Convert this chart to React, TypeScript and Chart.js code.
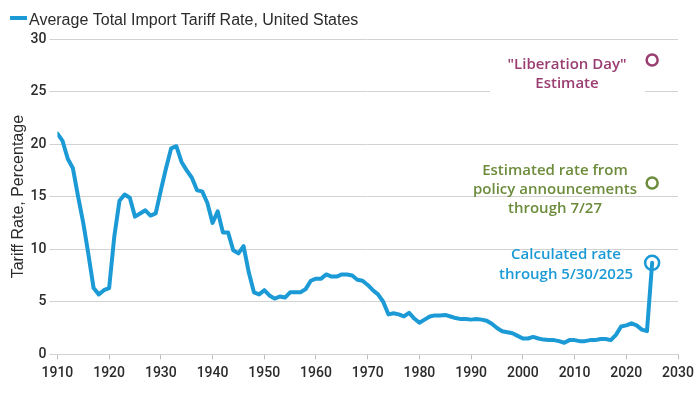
import React, { useEffect, useRef } from "react";
import { Chart, registerables } from "chart.js";

Chart.register(...registerables);

// ---------- data ----------
const years = [
  1910, 1911, 1912, 1913, 1914, 1915, 1916, 1917, 1918, 1919,
  1920, 1921, 1922, 1923, 1924, 1925, 1926, 1927, 1928, 1929,
  1930, 1931, 1932, 1933, 1934, 1935, 1936, 1937, 1938, 1939,
  1940, 1941, 1942, 1943, 1944, 1945, 1946, 1947, 1948, 1949,
  1950, 1951, 1952, 1953, 1954, 1955, 1956, 1957, 1958, 1959,
  1960, 1961, 1962, 1963, 1964, 1965, 1966, 1967, 1968, 1969,
  1970, 1971, 1972, 1973, 1974, 1975, 1976, 1977, 1978, 1979,
  1980, 1981, 1982, 1983, 1984, 1985, 1986, 1987, 1988, 1989,
  1990, 1991, 1992, 1993, 1994, 1995, 1996, 1997, 1998, 1999,
  2000, 2001, 2002, 2003, 2004, 2005, 2006, 2007, 2008, 2009,
  2010, 2011, 2012, 2013, 2014, 2015, 2016, 2017, 2018, 2019,
  2020, 2021, 2022, 2023, 2024, 2025,
];

const tariffRate = [
  21.0, 20.3, 18.6, 17.7, 15.0, 12.5, 9.5, 6.3, 5.7, 6.1,
  6.3, 11.2, 14.6, 15.2, 14.9, 13.1, 13.4, 13.7, 13.2, 13.4,
  15.6, 17.7, 19.6, 19.8, 18.3, 17.5, 16.8, 15.6, 15.5, 14.4,
  12.5, 13.6, 11.6, 11.6, 9.9, 9.6, 10.3, 7.8, 5.9, 5.7,
  6.1, 5.6, 5.3, 5.5, 5.4, 5.9, 5.9, 5.9, 6.2, 7.0,
  7.2, 7.2, 7.6, 7.4, 7.4, 7.6, 7.6, 7.5, 7.1, 7.0,
  6.6, 6.1, 5.7, 5.0, 3.8, 3.9, 3.8, 3.6, 3.95, 3.4,
  3.0, 3.3, 3.6, 3.7, 3.7, 3.75, 3.6, 3.45, 3.35, 3.35,
  3.3, 3.35, 3.3, 3.2, 2.9, 2.5, 2.2, 2.1, 2.0, 1.75,
  1.5, 1.5, 1.65, 1.5, 1.4, 1.35, 1.35, 1.25, 1.1, 1.35,
  1.35, 1.25, 1.25, 1.35, 1.35, 1.45, 1.45, 1.35, 1.85, 2.65,
  2.75, 2.95, 2.75, 2.35, 2.2, 8.7,
];

const estimateYear = 2025;
const calculatedRate = 8.7;
const policyRate = 16.3;
const liberationRate = 28.0;

const xTicks = [1910, 1920, 1930, 1940, 1950, 1960, 1970, 1980, 1990, 2000, 2010, 2020, 2030];
const yTicks = [0, 5, 10, 15, 20, 25, 30];

const legendLabel = "Average Total Import Tariff Rate, United States";
const yTitle = "Tariff Rate, Percentage";
const liberationLines = ['"Liberation Day"', "Estimate"];
const policyLines = ["Estimated rate from", "policy announcements", "through 7/27"];
const calculatedLines = ["Calculated rate", "through 5/30/2025"];

// ---------- styles ----------
const BLUE = "#1b9ad6";
const PURPLE = "#9a3d70";
const GREEN = "#6c8c3c";
const TEXT = "#2b2b2b";
const GRID = "#d2d2d2";
const NOTE_FONT = "600 15px 'Open Sans', 'Noto Sans', sans-serif";

const notesPlugin = {
  id: "notesPlugin",
  beforeDatasetsDraw(chart: any) {
    const ctx = chart.ctx;
    ctx.save();
    // white panel behind the "Liberation Day" note (hides gridline)
    ctx.fillStyle = "#ffffff";
    ctx.fillRect(490, 47, 155, 49);

    const drawLines = (lines: string[], color: string, cx: number, y0: number, step: number) => {
      ctx.font = NOTE_FONT;
      ctx.fillStyle = color;
      ctx.textAlign = "center";
      ctx.textBaseline = "middle";
      lines.forEach((l, i) => ctx.fillText(l, cx, y0 + i * step));
    };
    drawLines(liberationLines, PURPLE, 567, 65, 18.5);
    drawLines(policyLines, GREEN, 555, 171, 19);
    drawLines(calculatedLines, BLUE, 566, 255, 20);
    ctx.restore();
  },
  afterDraw(chart: any) {
    const ctx = chart.ctx;
    ctx.save();
    ctx.fillStyle = BLUE;
    ctx.fillRect(10, 16, 17, 4);
    ctx.font = "16px 'Liberation Sans', Arial, sans-serif";
    ctx.fillStyle = TEXT;
    ctx.textAlign = "left";
    ctx.textBaseline = "alphabetic";
    ctx.fillText(legendLabel, 29, 25);
    ctx.restore();
  },
};

export default function App() {
  const canvasRef = useRef<HTMLCanvasElement | null>(null);

  useEffect(() => {
    if (!canvasRef.current) return;
    const lineData = years.map((yr, i) => ({ x: yr, y: tariffRate[i] }));
    const chart = new Chart(canvasRef.current, {
      type: "line",
      data: {
        datasets: [
          {
            label: legendLabel,
            data: lineData,
            borderColor: BLUE,
            backgroundColor: BLUE,
            borderWidth: 4,
            pointRadius: 0,
            tension: 0,
            borderJoinStyle: "round",
            borderCapStyle: "round",
          },
          {
            label: "calculated",
            data: [{ x: estimateYear, y: calculatedRate }],
            showLine: false,
            pointRadius: 7,
            pointBorderWidth: 2.5,
            pointBorderColor: BLUE,
            pointBackgroundColor: "rgba(0,0,0,0)",
          },
          {
            label: "policy",
            data: [{ x: estimateYear, y: policyRate }],
            showLine: false,
            pointRadius: 5.5,
            pointBorderWidth: 2.5,
            pointBorderColor: GREEN,
            pointBackgroundColor: "#ffffff",
          },
          {
            label: "liberation",
            data: [{ x: estimateYear, y: liberationRate }],
            showLine: false,
            pointRadius: 5.5,
            pointBorderWidth: 2.5,
            pointBorderColor: PURPLE,
            pointBackgroundColor: "#ffffff",
          },
        ],
      },
      options: {
        responsive: false,
        animation: false,
        devicePixelRatio: 1,
        layout: { padding: { left: 0, right: 22, top: 39, bottom: 0 } },
        plugins: {
          legend: { display: false },
          tooltip: { enabled: false },
        },
        scales: {
          x: {
            type: "linear",
            min: 1910,
            max: 2030,
            afterBuildTicks: (scale: any) => {
              scale.ticks = xTicks.map((v) => ({ value: v }));
            },
            afterFit: (scale: any) => {
              scale.height = 38.7;
            },
            ticks: {
              callback: (v: any) => String(v),
              color: TEXT,
              font: { family: "Roboto, sans-serif", size: 14, weight: "500" },
              padding: 6,
              maxRotation: 0,
              autoSkip: false,
            },
            grid: {
              drawOnChartArea: false,
              drawTicks: true,
              tickLength: 5,
              color: "#bdbdbd",
            },
            border: { display: true, color: GRID },
          },
          y: {
            min: 0,
            max: 30,
            afterBuildTicks: (scale: any) => {
              scale.ticks = yTicks.map((v) => ({ value: v }));
            },
            afterFit: (scale: any) => {
              scale.width = 57.4;
            },
            ticks: {
              color: TEXT,
              font: { family: "Roboto, sans-serif", size: 14, weight: "500" },
              padding: 3,
            },
            grid: { color: GRID, tickLength: 8, lineWidth: 1 },
            border: { display: false },
            title: {
              display: true,
              text: yTitle,
              color: TEXT,
              font: { family: "'Liberation Sans', Arial, sans-serif", size: 16, weight: "normal" },
              padding: { top: 9, bottom: 0 },
            },
          },
        },
      },
      plugins: [notesPlugin],
    } as any);
    return () => chart.destroy();
  }, []);

  return (
    <div style={{ position: "absolute", left: 0, top: 0, width: 700, height: 393, background: "#fff" }}>
      <canvas ref={canvasRef} width={700} height={393} style={{ display: "block" }} />
    </div>
  );
}
